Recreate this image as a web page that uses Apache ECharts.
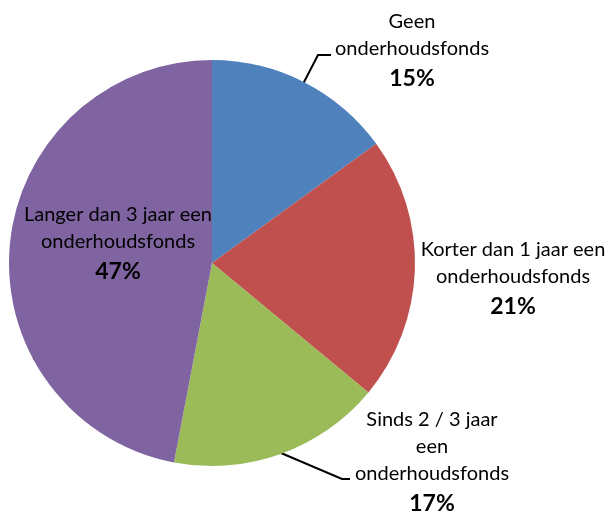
<!DOCTYPE html>
<html>
<head>
<meta charset="utf-8">
<script src="https://cdn.jsdelivr.net/npm/echarts@6/dist/echarts.min.js"></script>
<style>
  html, body { margin: 0; padding: 0; background: #fff; }
  #chart { width: 613px; height: 513px; }
</style>
</head>
<body>
<div id="chart"></div>
<script>
// categories and values (percent)
const categories = [
    'Geen\nonderhoudsfonds',
    'Korter dan 1 jaar een\nonderhoudsfonds',
    'Sinds 2 / 3 jaar\neen\nonderhoudsfonds',
    'Langer dan 3 jaar een\nonderhoudsfonds'
];
const values = [15, 21, 17, 47];
const colors = ['#4F81BD', '#C0504D', '#9BBB59', '#8064A2'];

// where each label sits (center x, top y) and its leader line, if any
const labelSpots = [
    { x: 412, y: 8, line: [[303, 84], [318, 55], [331, 55]] },
    { x: 513, y: 236 },
    { x: 432, y: 406, line: [[281, 453], [342, 479], [350, 479]] },
    { x: 118, y: 201 }
];

var myChart = echarts.init(document.getElementById('chart'));
myChart.setOption({
    animation: false,
    backgroundColor: '#fff',
    color: colors,
    series: [{
        type: 'pie',
        center: [212, 263],
        radius: 203,
        startAngle: 90,
        clockwise: true,
        avoidLabelOverlap: false,
        data: categories.map((name, i) => ({
            name: name,
            value: values[i],
            label: { position: i === 3 ? 'inside' : 'outside' }
        })),
        itemStyle: { borderWidth: 0 },
        label: {
            show: true,
            overflow: 'none',
            formatter: p => '{n|' + p.name + '}\n{p|' + p.value + '%}',
            rich: {
                n: { fontFamily: 'Lato', fontSize: 20, color: '#000', lineHeight: 27, align: 'center' },
                p: { fontFamily: 'Lato', fontSize: 23, fontWeight: 'bold', color: '#000', lineHeight: 34, align: 'center' }
            }
        },
        labelLine: {
            show: true,
            lineStyle: { color: '#000', width: 2 }
        },
        labelLayout: params => {
            const s = labelSpots[params.dataIndex];
            const out = { x: s.x, y: s.y, align: 'center', verticalAlign: 'top' };
            out.labelLinePoints = s.line || [[0, 0], [0, 0], [0, 0]];
            return out;
        }
    }]
});
</script>
</body>
</html>
